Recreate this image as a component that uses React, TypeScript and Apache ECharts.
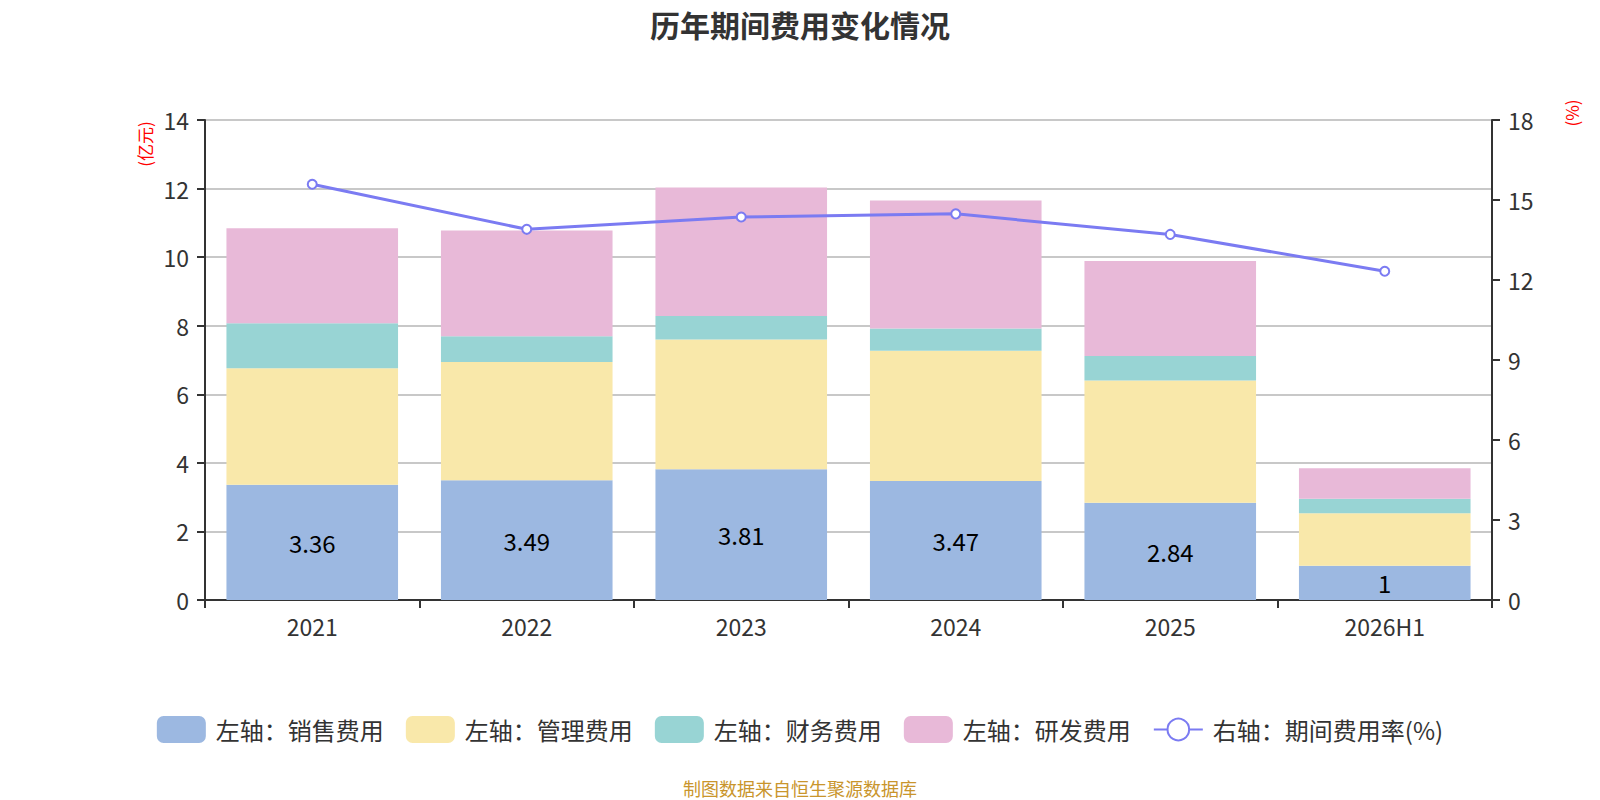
import React, { useEffect, useRef } from "react";
import * as echarts from "echarts";

const categories = ["2021", "2022", "2023", "2024", "2025", "2026H1"];
const salesExp = [3.36, 3.49, 3.81, 3.47, 2.84, 1];
const mgmtExp = [3.4, 3.45, 3.79, 3.8, 3.56, 1.53];
const finExp = [1.31, 0.75, 0.68, 0.65, 0.72, 0.42];
const rdExp = [2.77, 3.09, 3.75, 3.73, 2.77, 0.89];
const expRate = [15.59, 13.9, 14.36, 14.48, 13.71, 12.33];

const FONT = '"Noto Sans CJK SC", "Noto Sans", sans-serif';

export default function App() {
  const ref = useRef<HTMLDivElement>(null);
  useEffect(() => {
    document.body.style.margin = "0";
    if (!ref.current) return;
    const chart = echarts.init(ref.current, undefined, { renderer: "svg" });
    const barCommon = {
      type: "bar",
      stack: "total",
      barWidth: "80%",
      yAxisIndex: 0,
    };
    const axisLabel = { fontSize: 23, color: "#333", margin: 16, fontFamily: FONT };
    chart.setOption({
      animation: false,
      textStyle: { fontFamily: FONT },
      title: {
        text: "历年期间费用变化情况",
        left: "center",
        top: 4,
        textStyle: { fontSize: 30, fontWeight: "bold", color: "#333", fontFamily: FONT },
      },
      grid: { left: 205, right: 108, top: 120, bottom: 200 },
      legend: {
        bottom: 52,
        left: "center",
        itemWidth: 49,
        itemHeight: 27,
        itemGap: 22,
        textStyle: { fontSize: 24, color: "#333", fontFamily: FONT, padding: [0, 0, 0, 5] },
        data: [
          { name: "左轴：销售费用", icon: "roundRect" },
          { name: "左轴：管理费用", icon: "roundRect" },
          { name: "左轴：财务费用", icon: "roundRect" },
          { name: "左轴：研发费用", icon: "roundRect" },
          { name: "右轴：期间费用率(%)" },
        ],
      },
      xAxis: {
        type: "category",
        data: categories,
        axisLine: { lineStyle: { color: "#333", width: 2 } },
        axisTick: { show: true, length: 8, lineStyle: { color: "#333", width: 2 } },
        axisLabel: { ...axisLabel, margin: 14 },
      },
      yAxis: [
        {
          type: "value",
          min: 0,
          max: 14,
          interval: 2,
          axisLine: { show: true, lineStyle: { color: "#333", width: 2 } },
          axisTick: { show: true, length: 8, lineStyle: { color: "#333", width: 2 } },
          axisLabel,
          splitLine: { lineStyle: { color: "#c8c8c8", width: 2 } },
        },
        {
          type: "value",
          min: 0,
          max: 18,
          interval: 3,
          position: "right",
          axisLine: { show: true, lineStyle: { color: "#333", width: 2 } },
          axisTick: { show: true, length: 8, lineStyle: { color: "#333", width: 2 } },
          axisLabel,
          splitLine: { show: false },
        },
      ],
      graphic: [
        {
          type: "text",
          x: 144,
          y: 144,
          rotation: Math.PI / 2,
          style: {
            text: "(亿元)",
            fill: "#ff0000",
            font: `17px ${FONT}`,
            align: "center",
            verticalAlign: "middle",
          },
        },
        {
          type: "text",
          x: 1571,
          y: 113,
          rotation: Math.PI / 2,
          style: {
            text: "(%)",
            fill: "#ff0000",
            font: `17px ${FONT}`,
            align: "center",
            verticalAlign: "middle",
          },
        },
        {
          type: "text",
          x: 800,
          y: 788,
          style: {
            text: "制图数据来自恒生聚源数据库",
            fill: "#c9952c",
            font: `18px ${FONT}`,
            align: "center",
            verticalAlign: "middle",
          },
        },
      ],
      series: [
        {
          ...barCommon,
          name: "左轴：销售费用",
          data: salesExp,
          itemStyle: { color: "#9cb8e1" },
          label: { show: true, position: "inside", fontSize: 24, color: "#000", fontFamily: FONT },
        },
        {
          ...barCommon,
          name: "左轴：管理费用",
          data: mgmtExp,
          itemStyle: { color: "#f9e8aa" },
        },
        {
          ...barCommon,
          name: "左轴：财务费用",
          data: finExp,
          itemStyle: { color: "#98d4d4" },
        },
        {
          ...barCommon,
          name: "左轴：研发费用",
          data: rdExp,
          itemStyle: { color: "#e8b9d8" },
        },
        {
          type: "line",
          name: "右轴：期间费用率(%)",
          yAxisIndex: 1,
          data: expRate,
          symbol: "emptyCircle",
          symbolSize: 9,
          lineStyle: { color: "#7b7bf2", width: 3 },
          itemStyle: { color: "#7b7bf2", borderWidth: 2 },
        },
      ],
    });
    return () => chart.dispose();
  }, []);
  return <div ref={ref} style={{ width: 1600, height: 800 }} />;
}
